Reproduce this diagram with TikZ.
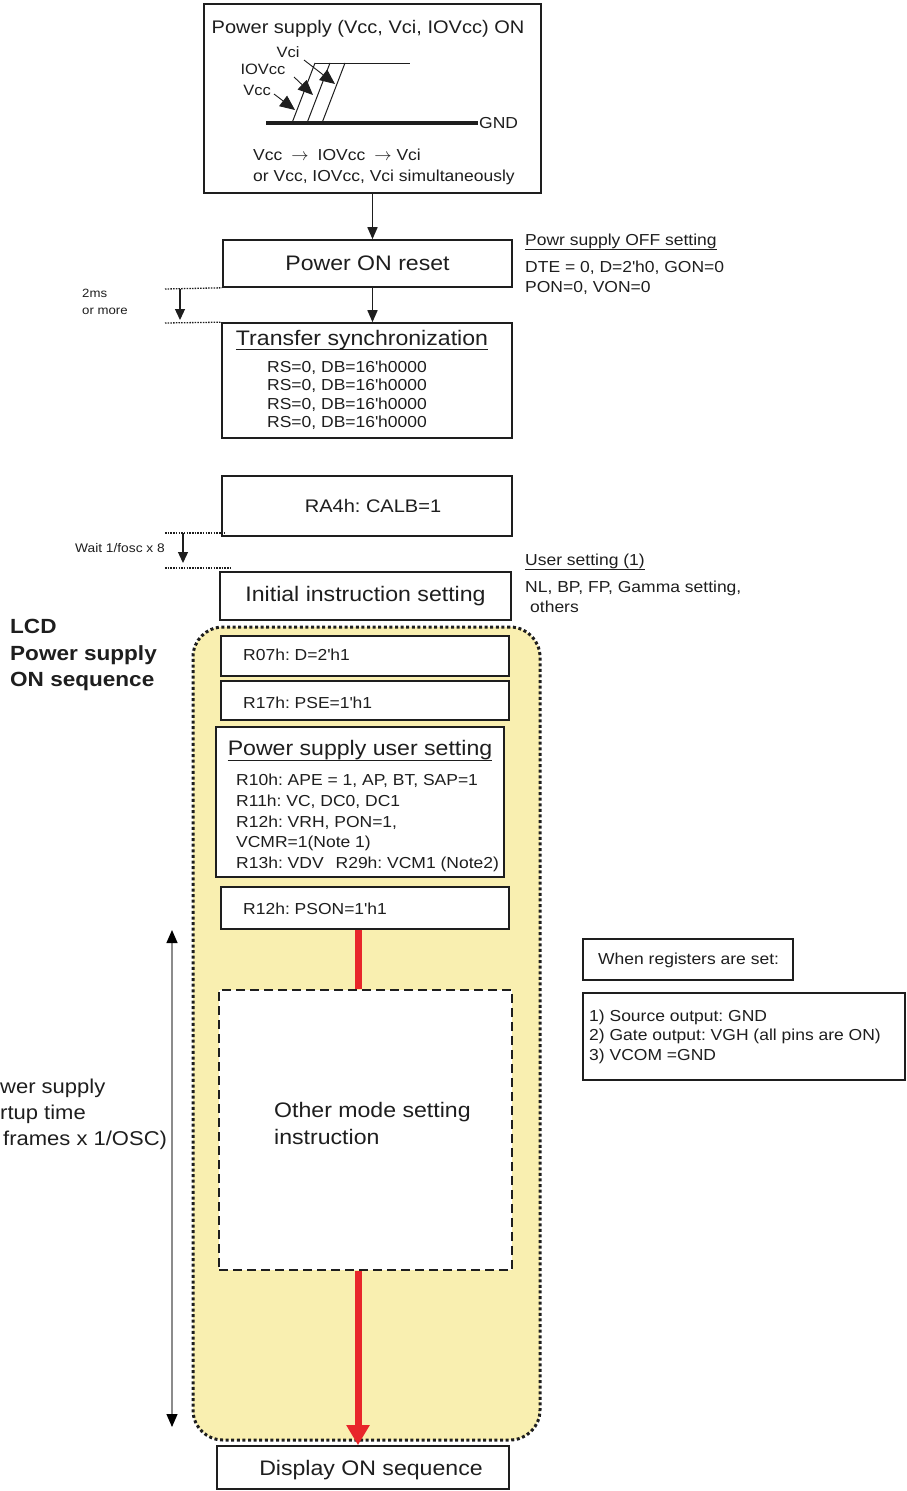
\documentclass[tikz,border=0pt]{standalone}
\usepackage{fontspec}
\setmainfont{Liberation Sans}[FakeStretch=1.1]
\usetikzlibrary{arrows.meta}
\definecolor{ink}{RGB}{30,30,30}
\definecolor{pale}{RGB}{249,239,176}
\definecolor{redarr}{RGB}{232,38,42}
\definecolor{grayline}{RGB}{140,140,140}
\newcommand{\tq}{\textquotesingle}
\frenchspacing
\begin{document}
\begin{tikzpicture}[x=1pt,y=-1pt,
  every node/.style={text=ink},
  box/.style={draw=ink, line width=1.6pt, fill=white, inner sep=0pt},
  txt/.style={inner sep=0pt, anchor=base west},
  ctxt/.style={inner sep=0pt, anchor=base},
  fbig/.style={font=\fontsize{21}{25}\selectfont},
  fmid/.style={font=\fontsize{18.2}{22}\selectfont},
  fsm/.style={font=\fontsize{15.9}{19}\selectfont},
  fwav/.style={font=\fontsize{15}{18}\selectfont},
  ftiny/.style={font=\fontsize{12}{14}\selectfont},
  fwait/.style={font=\fontsize{12.5}{15}\selectfont},
  fbold/.style={font=\fontsize{20.5}{25}\selectfont\bfseries},
  fleft/.style={font=\fontsize{20}{24}\selectfont},
  arr/.style={draw=ink, line width=1.6pt, -{Triangle[length=12pt,width=10pt]}},
  warr/.style={draw=ink, line width=0.9pt, -{Triangle[length=15pt,width=13pt]}},
  tarr/.style={draw=ink, line width=1.3pt, -{Triangle[length=11pt,width=10pt]}},
  dotl/.style={draw=ink, line width=1.3pt, dash pattern=on 1.5pt off 1.2pt},
  uline/.style={draw=ink, line width=0.9pt},
]
\useasboundingbox (0,0) rectangle (907,1491);

% ---------- Power supply ON box ----------
\node[box, minimum width=337pt, minimum height=189pt] (psu) at (372.5,98.5) {};
\node[ctxt, fmid] (psutitle) at (368,33.5) {Power supply (Vcc, Vci, IOVcc) ON};
\draw[ink, line width=4pt] (266,123) -- (478,123);
\node[txt, fsm] (gnd) at (479,128.7) {GND};
\draw[ink, line width=1pt] (315,63) -- (410,63);
\draw[ink, line width=1pt] (292,123) -- (315,63);
\draw[ink, line width=1pt] (307,123) -- (330,63);
\draw[ink, line width=1pt] (322,123) -- (345,63);
\node[ctxt, fwav] (lvci) at (288,57.4) {Vci};
\node[ctxt, fwav] (liov) at (263,74.4) {IOVcc};
\node[ctxt, fwav] (lvcc) at (257,95.4) {Vcc};
\coordinate (avcc) at (295,110);
\coordinate (aiov) at (313,95);
\coordinate (avci) at (335,84);
\draw[warr] (274,94) -- (avcc);
\draw[warr] (294,77) -- (aiov);
\draw[warr] (304,60) -- (avci);
\node[txt, fsm] (seqa) at (253,160.7) {Vcc\hspace{9pt}$\rightarrow$\hspace{9pt}IOVcc\hspace{9pt}$\rightarrow$\hspace{5pt}Vci};
\node[txt, fsm] (seqb) at (253,181.7) {or Vcc, IOVcc, Vci simultaneously};

% ---------- Power ON reset ----------
\node[box, minimum width=289pt, minimum height=47pt, fbig] (reset) at (367.5,263.5) {Power ON reset};
\draw[arr] (psu.south) -- (psu.south |- reset.north);

\node[txt, fsm] (offt) at (525,245.7) {Powr supply OFF setting};
\draw[uline] ([yshift=-4pt]offt.base west) -- ([yshift=-4pt]offt.base east);
\node[txt, fsm] (off1) at (525,272.7) {DTE = 0, D=2\tq h0, GON=0};
\node[txt, fsm] (off2) at (525,292.7) {PON=0, VON=0};

% ---------- Transfer synchronization ----------
\node[box, minimum width=290pt, minimum height=115pt] (sync) at (367,380.5) {};
\draw[arr] (reset.south -| psu.south) -- (psu.south |- sync.north);
\node[ctxt, fbig] (synct) at (362,345.5) {Transfer synchronization};
\draw[uline] ([yshift=-4pt]synct.base west) -- ([yshift=-4pt]synct.base east);
\node[txt, fsm] (rs1) at (267,372.7) {RS=0, DB=16\tq h0000};
\node[txt, fsm] (rs2) at (267,390.7) {RS=0, DB=16\tq h0000};
\node[txt, fsm] (rs3) at (267,409.7) {RS=0, DB=16\tq h0000};
\node[txt, fsm] (rs4) at (267,427.7) {RS=0, DB=16\tq h0000};

% 2ms wait
\coordinate (d1a) at (165,289);
\coordinate (d2a) at (165,323);
\draw[dotl] (d1a) -- (reset.south west);
\draw[dotl] (d2a) -- (sync.north west);
\coordinate (t1) at (180,289);
\coordinate (t2) at (180,320);
\draw[tarr] (t1) -- (t2);
\node[txt, ftiny] (ms1) at (82,297.3) {2ms};
\node[txt, ftiny] (ms2) at (82,314.3) {or more};

% ---------- RA4h ----------
\node[box, minimum width=290pt, minimum height=60pt] (ra4) at (367,506) {};
\node[ctxt, fmid] (ra4t) at (373,512.5) {RA4h: CALB=1};
\coordinate (w1a) at (165,533);
\coordinate (w1b) at (225,533);
\coordinate (w2a) at (165,568);
\coordinate (w2b) at (232,568);
\draw[dotl] (w1a) -- (w1b);
\draw[dotl] (w2a) -- (w2b);
\coordinate (t3) at (183,533);
\coordinate (t4) at (183,563);
\draw[tarr] (t3) -- (t4);
\node[inner sep=0pt, anchor=base east, fwait] (waitt) at (165,552.5) {Wait 1/fosc x 8};

% ---------- Initial instruction setting ----------
\node[box, minimum width=291pt, minimum height=48pt, fbig] (init) at (365.5,596) {Initial instruction setting};
\node[txt, fsm] (ust) at (525,565.7) {User setting (1)};
\draw[uline] ([yshift=-4pt]ust.base west) -- ([yshift=-4pt]ust.base east);
\node[txt, fsm] (us1) at (525,592.7) {NL, BP, FP, Gamma setting,};
\node[txt, fsm] (us2) at (530,612.7) {others};

% ---------- LCD power supply ON sequence region ----------
\node[draw=ink, fill=pale, line width=3pt, dash pattern=on 3pt off 2.6pt,
      rounded corners=30pt, minimum width=347pt, minimum height=813pt, inner sep=0pt] (seq) at (366.5,1033.5) {};
\node[txt, fbold] (lcd1) at (10,633.3) {LCD};
\node[txt, fbold] (lcd2) at (10,660.3) {Power supply};
\node[txt, fbold] (lcd3) at (10,686.3) {ON sequence};

\node[box, minimum width=288pt, minimum height=40pt] (r07) at (365,656) {};
\node[txt, fsm] (r07t) at (243,660.7) {R07h: D=2\tq h1};
\node[box, minimum width=288pt, minimum height=39pt] (r17) at (365,700.5) {};
\node[txt, fsm] (r17t) at (243,708.7) {R17h: PSE=1\tq h1};

\node[box, minimum width=288pt, minimum height=150pt] (pus) at (360,802) {};
\node[ctxt, fbig] (pust) at (360,755.5) {Power supply user setting};
\draw[uline] ([yshift=-5pt]pust.base west) -- ([yshift=-5pt]pust.base east);
\node[txt, fsm] (p1) at (236,785.7) {R10h: APE = 1, AP, BT, SAP=1};
\node[txt, fsm] (p2) at (236,806.7) {R11h: VC, DC0, DC1};
\node[txt, fsm] (p3) at (236,827.7) {R12h: VRH, PON=1,};
\node[txt, fsm] (p4) at (236,847.7) {VCMR=1(Note 1)};
\node[txt, fsm] (p5) at (236,868.7) {R13h: VDV\hspace{12pt}R29h: VCM1 (Note2)};

\node[box, minimum width=288pt, minimum height=42pt] (pson) at (365,908) {};
\node[txt, fsm] (psont) at (243,914.7) {R12h: PSON=1\tq h1};

\node[draw=ink, fill=white, line width=2pt, dash pattern=on 9pt off 5pt,
      minimum width=293pt, minimum height=280pt, inner sep=0pt] (other) at (365.5,1130) {};
\node[txt, fbig] (oth1) at (274,1117.5) {Other mode setting};
\node[txt, fbig] (oth2) at (274,1144.5) {instruction};

\node[box, minimum width=292pt, minimum height=43pt] (disp) at (363,1467.5) {};
\node[ctxt, fbig] (dispt) at (371,1475) {Display ON sequence};

% red connectors
\draw[redarr, line width=7pt] (pson.south -| 358,0) -- (other.north -| 358,0);
\draw[redarr, line width=7pt, -{Triangle[length=20pt,width=22pt]}] (other.south -| 358,0) -- (disp.north -| 358,0);

% ---------- startup time arrow ----------
\coordinate (vt) at (172,930);
\coordinate (vb) at (172,1427);
\draw[grayline, line width=1.3pt, {Triangle[length=13pt,width=11pt,color=black]}-{Triangle[length=13pt,width=11pt,color=black]}] (vt) -- (vb);
\node[txt, fleft] (st1) at (0,1093) {wer supply};
\node[txt, fleft] (st2) at (0,1119) {rtup time};
\node[txt, fleft] (st3) at (3,1145) {frames x 1/OSC)};

% ---------- register notes ----------
\node[box, minimum width=210pt, minimum height=41pt] (when) at (688,959.5) {};
\node[txt, fsm] (whent) at (598,964.7) {When registers are set:};
\node[box, minimum width=322pt, minimum height=87pt] (outs) at (744,1036.5) {};
\node[txt, fsm] (o1) at (589,1021.7) {1) Source output: GND};
\node[txt, fsm] (o2) at (589,1040.7) {2) Gate output: VGH (all pins are ON)};
\node[txt, fsm] (o3) at (589,1060.7) {3) VCOM =GND};
\end{tikzpicture}
\end{document}
